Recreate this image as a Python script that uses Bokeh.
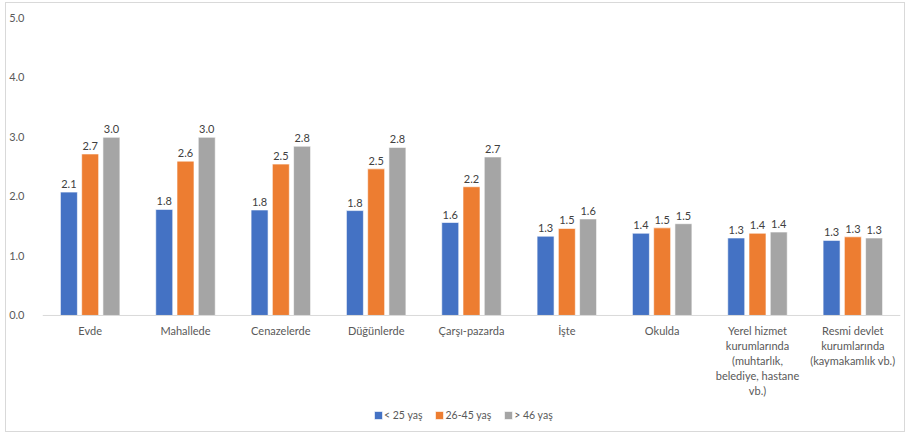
import numpy as np
from bokeh.plotting import figure
from bokeh.models import ColumnDataSource, FixedTicker, Legend, LegendItem, CustomJSTickFormatter, Span
from bokeh.embed import file_html
from bokeh.resources import INLINE

categories = ["Evde", "Mahallede", "Cenazelerde", "Düğünlerde", "Çarşı-pazarda", "İşte", "Okulda",
              "Yerel hizmet\nkurumlarında\n(muhtarlık,\nbelediye, hastane\nvb.)",
              "Resmi devlet\nkurumlarında\n(kaymakamlık vb.)"]
series_names = ["< 25 yaş", "26-45 yaş", "> 46 yaş"]
under25 = [2.07, 1.78, 1.77, 1.76, 1.56, 1.33, 1.38, 1.30, 1.26]
age26_45 = [2.71, 2.59, 2.54, 2.46, 2.16, 1.46, 1.47, 1.38, 1.32]
over46 = [2.99, 2.99, 2.84, 2.82, 2.66, 1.62, 1.54, 1.40, 1.30]
y_ticks = [0, 1, 2, 3, 4, 5]

colors = ["#4472C4", "#ED7D31", "#A5A5A5"]
offsets = [-0.223, 0.0, 0.223]
FONT = "Lato"

p = figure(width=900, height=430, output_backend="svg", toolbar_location=None,
           x_range=(-0.5, 8.5), y_range=(-1.93, 5),
           min_border_left=34, min_border_top=14, min_border_bottom=3, min_border_right=6)
p.styles = {"border": "1px solid #D9D9D9", "margin-left": "5px", "margin-top": "2px"}
p.outline_line_color = None
p.xgrid.grid_line_color = None
p.ygrid.grid_line_color = None
p.xaxis.visible = False

p.add_layout(Span(location=0, dimension="width", line_color="#D9D9D9", line_width=1))

x = np.arange(len(categories))
items = []
for vals, name, col, off in zip([under25, age26_45, over46], series_names, colors, offsets):
    src = ColumnDataSource(dict(x=x + off, top=vals, lab=[f"{v:.1f}" for v in vals]))
    r = p.vbar(x="x", top="top", width=0.178, source=src, fill_color=col,
               line_color="white", line_width=0.6)
    p.text(x="x", y="top", text="lab", source=src, text_align="center", text_baseline="bottom",
           y_offset=-4, text_font_size="11px", text_color="#404040", text_font={"value": FONT})
    items.append(LegendItem(label=name, renderers=[r]))

cat_src = ColumnDataSource(dict(x=x, y=[0] * len(categories), t=categories))
p.text(x="x", y="y", text="t", source=cat_src, text_align="center", text_baseline="top",
       y_offset=9, text_font_size="11px", text_color="#595959", text_font={"value": FONT},
       text_line_height=1.14)

p.yaxis.ticker = FixedTicker(ticks=y_ticks)
p.yaxis.formatter = CustomJSTickFormatter(code="return tick.toFixed(1);")
p.yaxis.axis_line_color = None
p.yaxis.major_tick_line_color = None
p.yaxis.minor_tick_line_color = None
p.yaxis.major_label_text_font_size = "11px"
p.yaxis.major_label_text_color = "#595959"
p.yaxis.major_label_text_font = FONT
p.yaxis.major_label_standoff = 12

legend = Legend(items=items, orientation="horizontal", location=(331, 9),
                label_text_font_size="10.5px", label_text_color="#595959", label_text_font=FONT,
                glyph_width=10, glyph_height=10, spacing=12, label_standoff=1,
                background_fill_alpha=0, border_line_color=None, padding=2, margin=0)
p.add_layout(legend, "center")

open("out.html", "w").write(file_html(p, INLINE))
